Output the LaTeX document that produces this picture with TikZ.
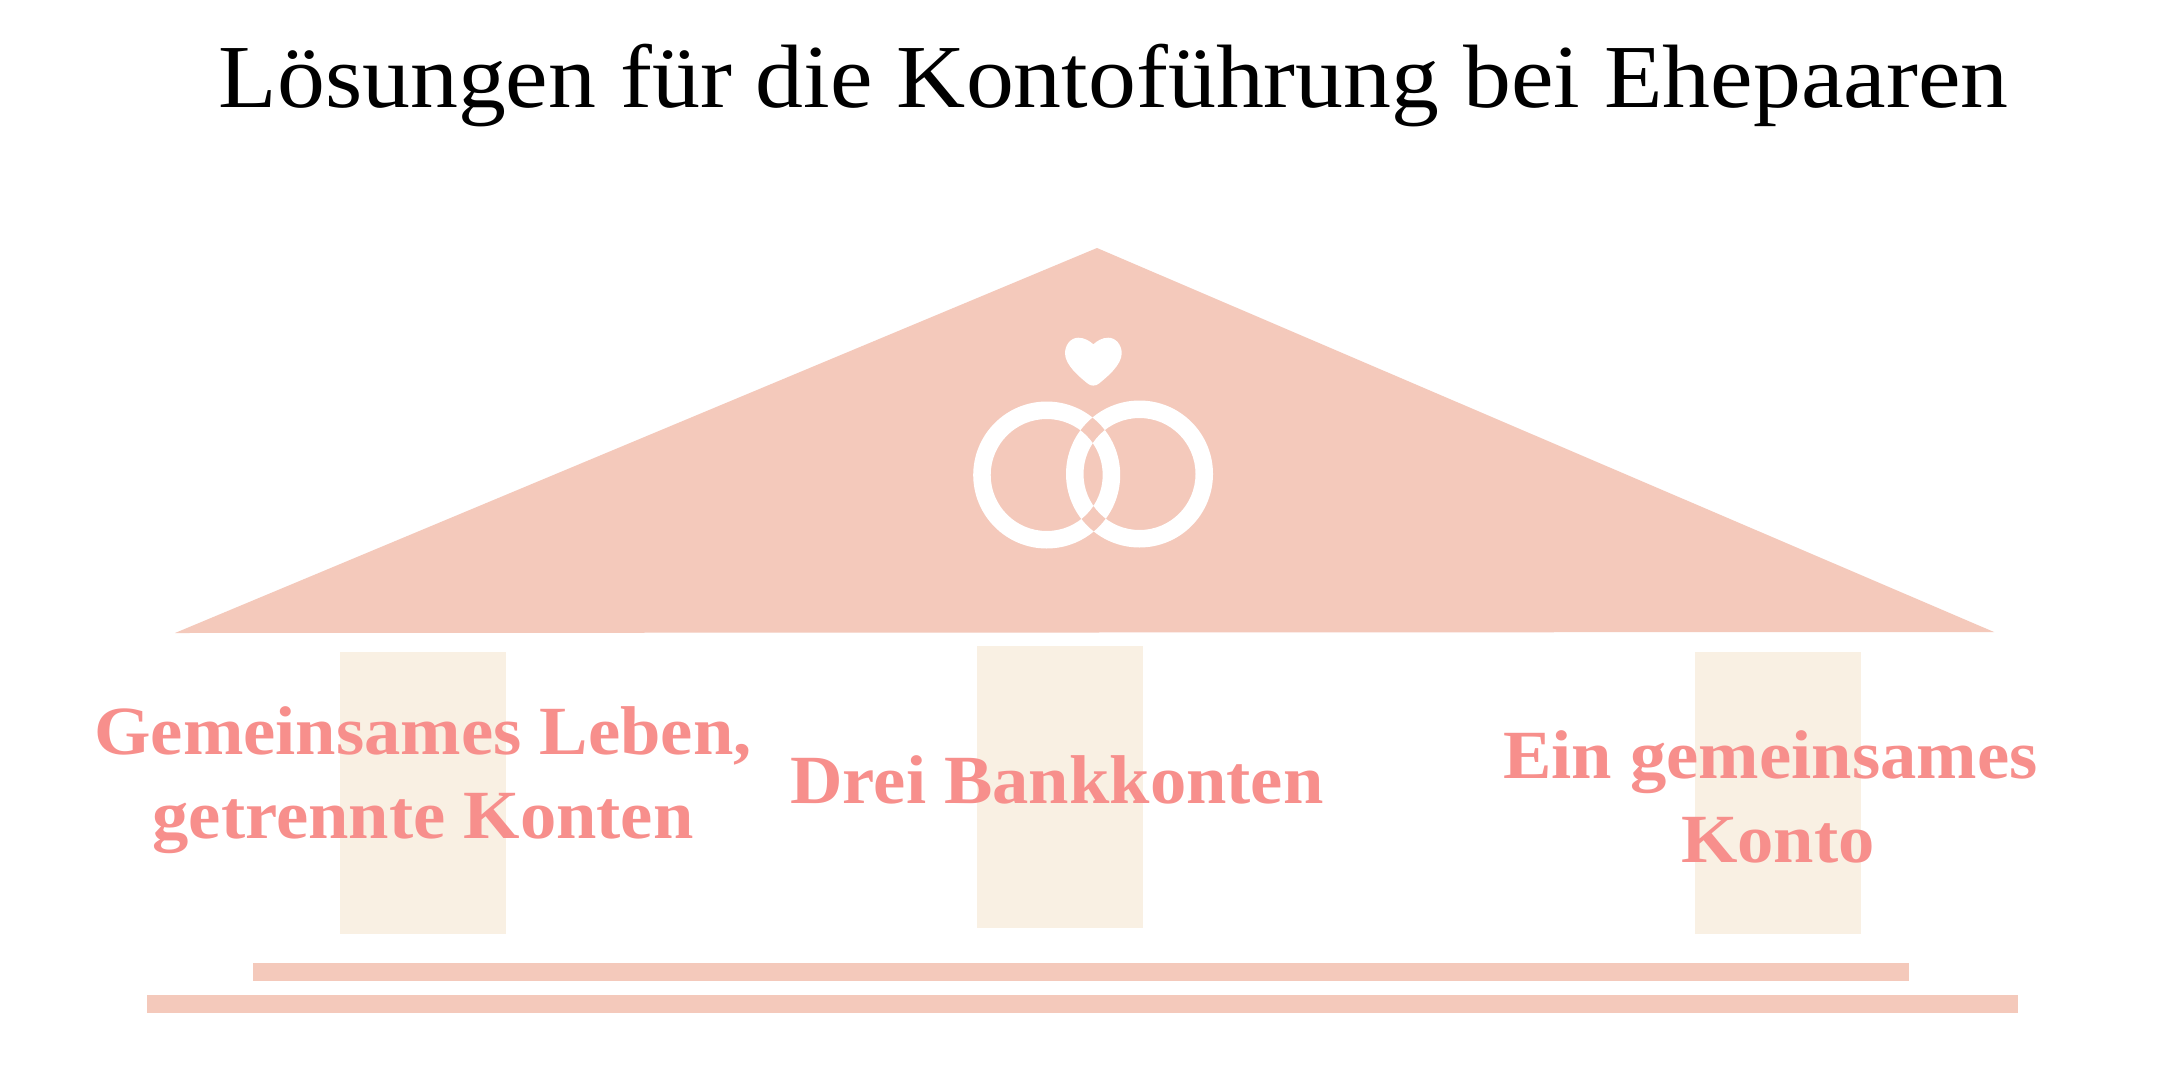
\documentclass[tikz,border=0pt]{standalone}
\usepackage{fontspec}
\newfontfamily\titlefont[FakeStretch=1.064]{Liberation Serif}
\newfontfamily\labfont[FakeStretch=1.052]{Liberation Serif}
\definecolor{roof}{HTML}{F4C9BB}
\definecolor{col}{HTML}{F9F0E3}
\definecolor{lab}{HTML}{F78F8C}
\tikzset{
  x=0.5pt,y=-0.5pt,
  roofpart/.style={fill=roof,draw=none},
  column/.style={fill=col,draw=none},
  label/.style={text=lab,font=\labfont\fontsize{34.5}{42}\selectfont\bfseries,align=center,inner sep=0pt,anchor=base},
  title/.style={text=black,font=\titlefont\fontsize{45}{50}\selectfont,inner sep=0pt,anchor=base},
}
\begin{document}
\begin{tikzpicture}
\useasboundingbox (0,0) rectangle (2161,1081);
\fill[white] (0,0) rectangle (2161,1081);
\fill[roofpart] (175,633) -- (1097,248) -- (1994,632) -- cycle;
\fill[column] (340,652) rectangle (506,934);
\fill[column] (977,646) rectangle (1143,928);
\fill[column] (1695,652) rectangle (1861,934);
\fill[roofpart] (253,963) rectangle (1909,981);
\fill[roofpart] (147,995) rectangle (2018,1013);
% rings
\fill[white,even odd rule]
  (1046.7,475) circle[radius=73.5] (1046.7,475) circle[radius=56]
  (1139.5,474) circle[radius=73.5] (1139.5,474) circle[radius=56];
% heart
\fill[white] (1093.3,344.3)
  .. controls (1097,341) and (1102,337.7) .. (1108.3,337.7)
  .. controls (1116,337.7) and (1121.7,345) .. (1121.7,353.3)
  .. controls (1121.7,365) and (1107,377) .. (1099,383.5)
  .. controls (1096,386.3) and (1090.6,386.3) .. (1087.6,383.5)
  .. controls (1079.6,377) and (1065,365) .. (1065,353.3)
  .. controls (1065,345) and (1070.6,337.7) .. (1078.3,337.7)
  .. controls (1084.6,337.7) and (1089.6,341) .. (1093.3,344.3) -- cycle;
\node[title] (t) at (1113.5,108) {Lösungen für die Kontoführung bei Ehepaaren};
\node[label] (a) at (423,838) {Gemeinsames Leben,\\getrennte Konten};
\node[label] (b) at (1057,803) {Drei Bankkonten};
\node[label] (c) at (1778,862.5) {Ein gemeinsames\hspace*{7.6pt}\\Konto};
\end{tikzpicture}
\end{document}
